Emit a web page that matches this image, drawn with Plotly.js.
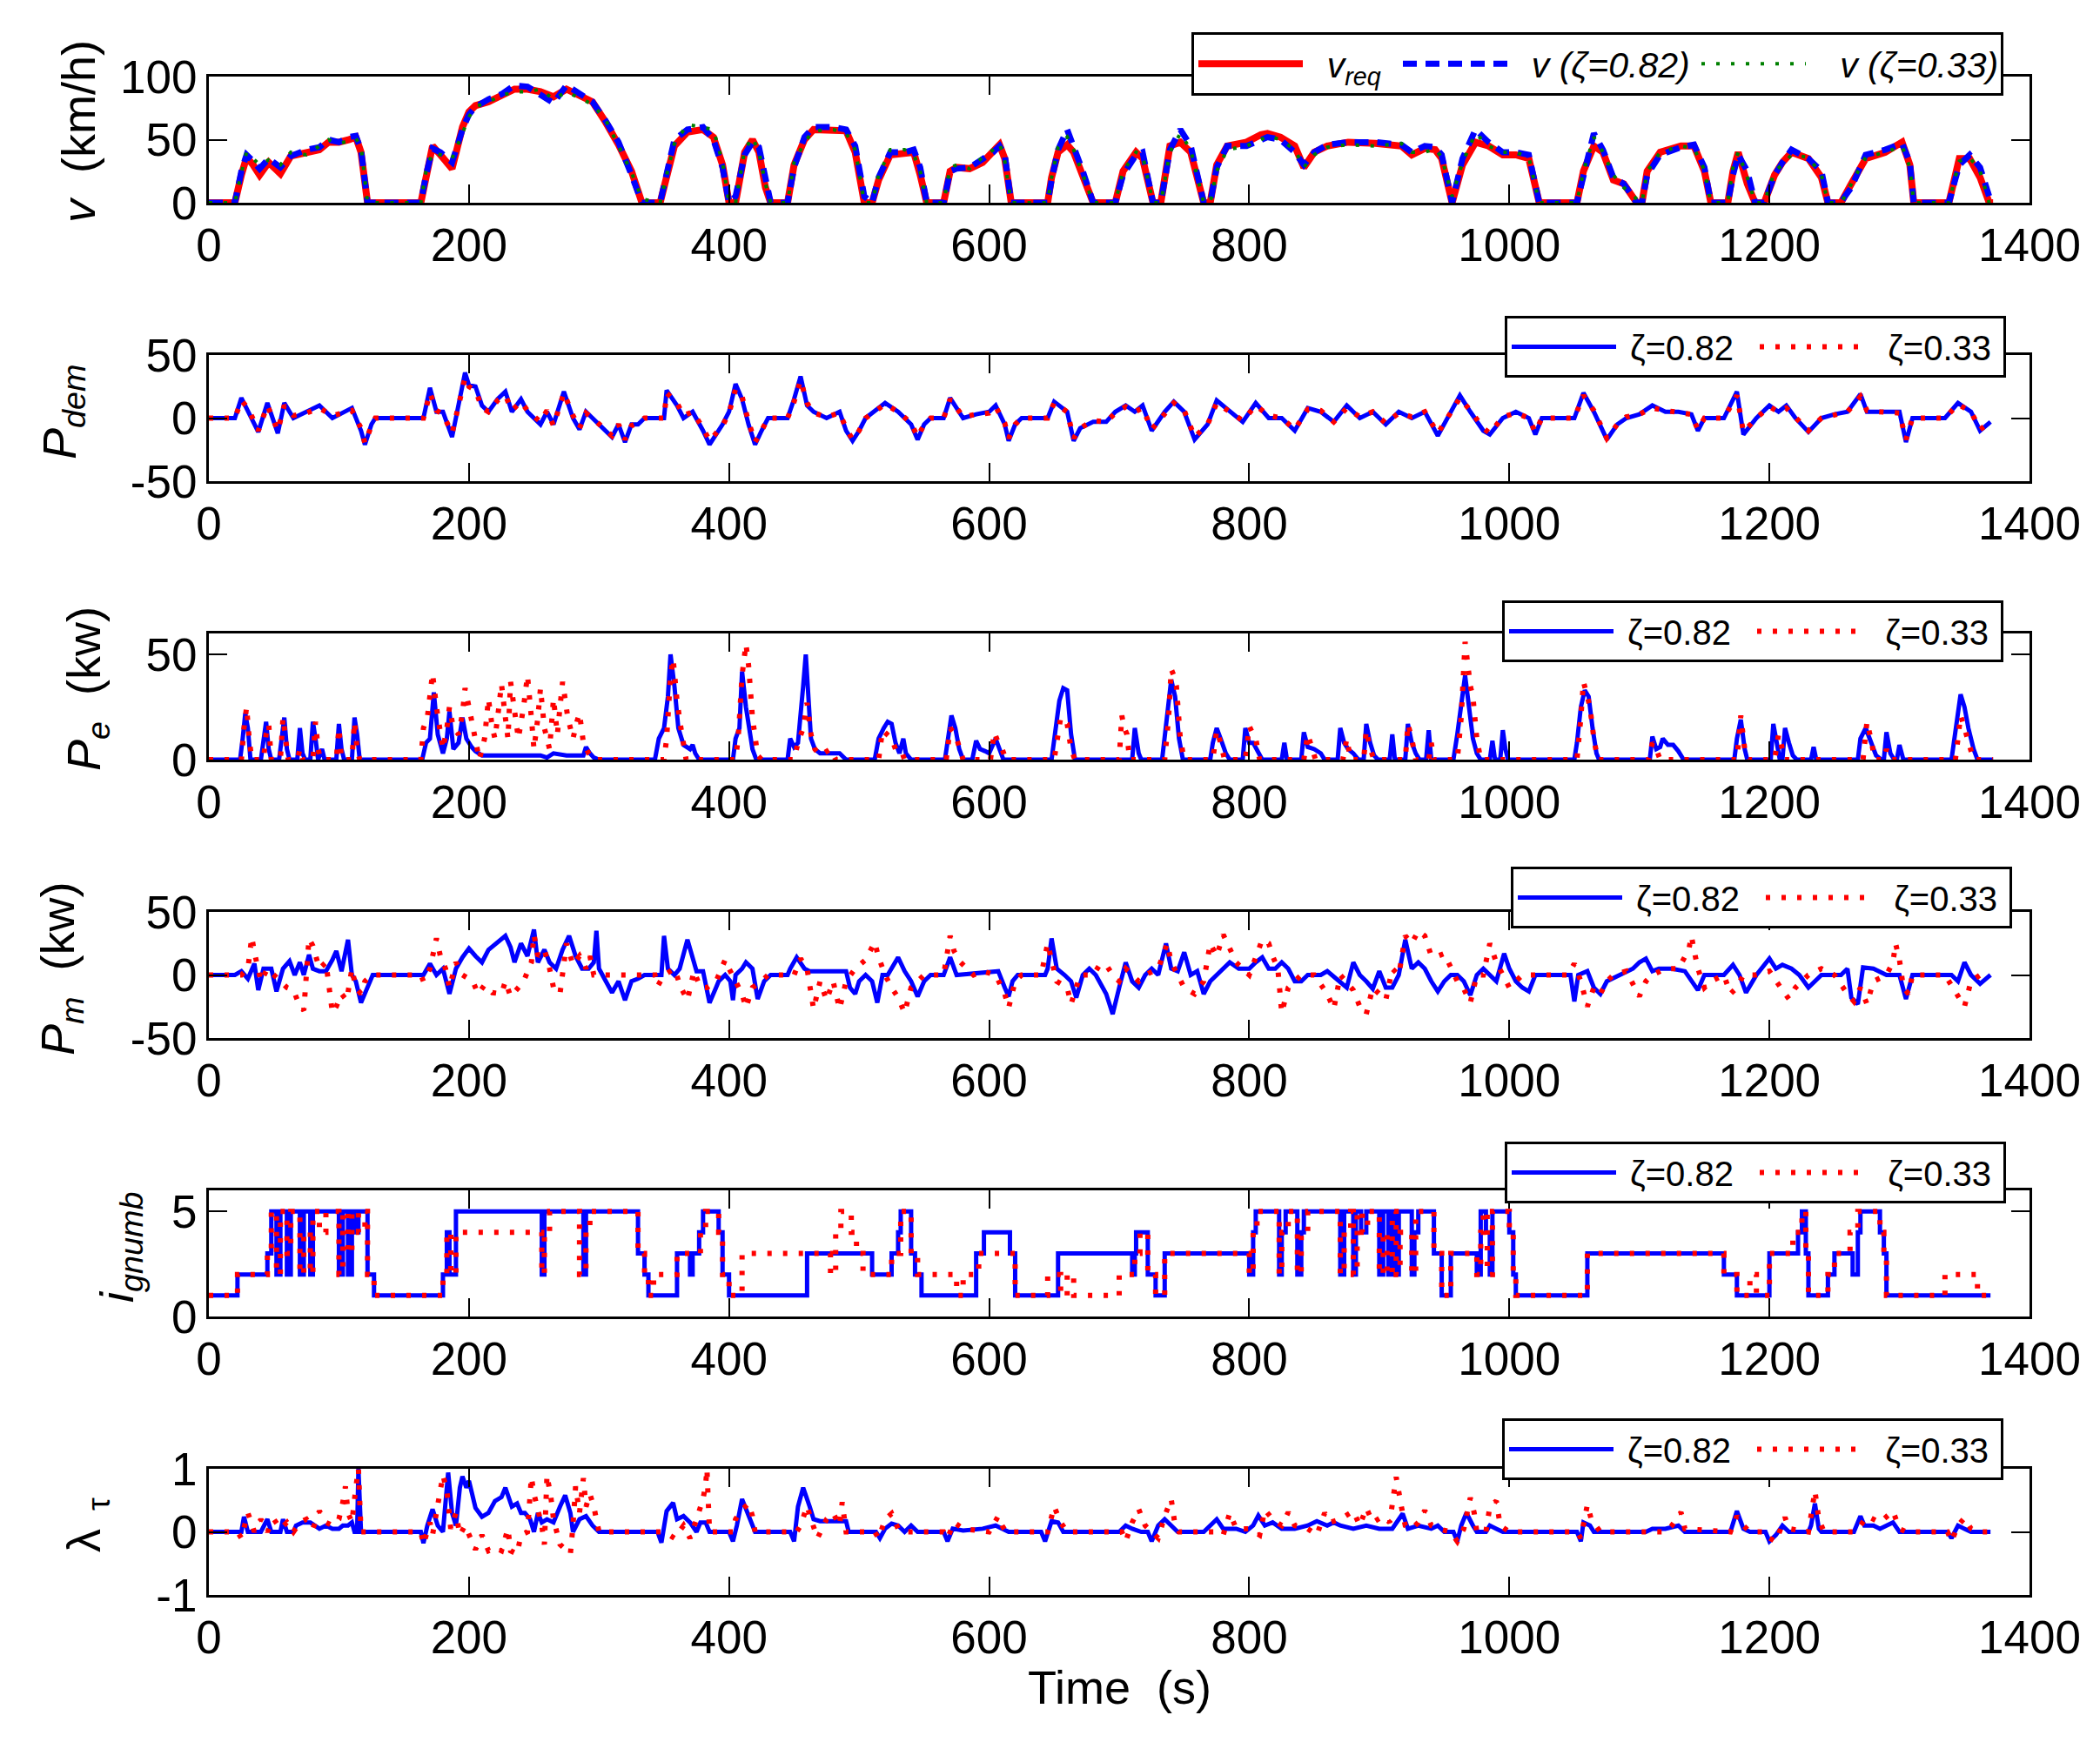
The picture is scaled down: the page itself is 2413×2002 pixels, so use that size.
<!DOCTYPE html>
<html>
<head>
<meta charset="utf-8">
<script src="https://cdn.plot.ly/plotly-3.0.1.min.js"></script>
<style>html,body{margin:0;padding:0;background:#fff}#chart{width:2413px;height:2002px}</style>
</head>
<body>
<div id="chart"></div>
<script>
// ---------------- DATA ----------------
// speed: [time s, v_req, v (zeta=0.82), v (zeta=0.33)] in km/h
const speedRows = [
[0,0,0,0],[20,0,0,0],[25,22,25,24],[29,36,38,40],[34,30,33,35],[39,22,27,30],[46,32,35,34],[55,23,28,30],[63,37,37,40],[75,40,42,38],
[85,42,44,45],[92,48,50,50],[100,48,48,47],[108,50,52,49],[113,52,53,51],[117,40,42,45],[122,0,0,0],[163,0,0,0],[167,20,22,25],[172,45,43,40],
[178,38,40,38],[187,27,32,35],[195,60,58,55],[200,72,70,68],[205,77,76,76],[215,80,82,80],[225,85,86,85],[235,90,93,88],[245,90,92,88],[255,88,85,90],
[265,84,79,82],[275,90,93,88],[285,85,86,83],[295,80,80,78],[305,64,65,66],[315,46,48,45],[325,25,22,24],[333,0,0,3],[347,0,0,0],[352,20,25,22],
[358,45,50,47],[368,56,58,62],[380,58,60,60],[388,52,50,58],[395,30,28,32],[400,0,0,0],[405,0,5,0],[412,40,38,42],[418,50,48,52],[423,40,44,40],
[428,12,20,15],[432,0,0,0],[445,0,0,0],[450,30,28,32],[458,50,52,48],[465,58,60,57],[480,57,60,58],[490,57,58,55],[497,40,45,42],[504,0,5,0],
[510,0,0,0],[515,18,20,22],[524,38,40,42],[535,40,40,42],[542,40,42,38],[547,22,28,25],[552,0,0,0],[565,0,0,0],[570,25,25,28],[575,28,27,30],
[585,27,28,27],[595,32,35,36],[603,40,40,42],[608,46,45,47],[612,35,38,33],[617,0,0,0],[645,0,0,0],[648,20,18,20],[653,40,42,44],[660,46,58,52],
[665,40,45,42],[672,20,25,22],[680,0,0,0],[697,0,0,0],[703,25,22,25],[713,40,38,40],[718,35,40,38],[726,0,0,0],[732,0,0,0],[739,45,42,40],
[747,48,58,55],[755,40,45,42],[765,0,0,0],[770,0,0,0],[775,30,28,25],[783,45,45,42],[798,48,45,45],[809,54,50,50],[814,55,52,53],[824,52,50,50],
[835,45,40,42],[842,28,30,28],[850,40,40,38],[860,45,46,44],[876,48,48,46],[897,47,48,45],[917,45,46,47],[925,38,40,40],[935,43,45,40],[943,42,44,43],
[948,35,38,36],[956,0,0,5],[964,30,35,32],[974,48,58,55],[984,45,48,45],[995,38,40,40],[1005,38,40,40],[1015,35,38,36],[1023,0,0,0],[1052,0,0,0],
[1057,25,22,25],[1065,45,55,52],[1072,40,42,40],[1080,18,20,22],[1088,15,15,12],[1098,0,0,3],[1102,0,0,0],[1106,25,22,25],[1116,40,38,40],[1132,45,44,45],
[1142,45,46,43],[1150,25,28,26],[1155,0,0,0],[1168,0,0,0],[1172,25,22,28],[1176,40,38,40],[1183,15,25,20],[1189,0,0,0],[1196,0,0,0],[1204,22,22,25],
[1210,32,32,30],[1217,40,42,38],[1230,35,35,36],[1240,20,25,22],[1245,0,0,0],[1255,0,0,0],[1258,5,5,5],[1263,15,12,15],[1274,35,38,36],[1289,40,42,40],
[1302,48,47,45],[1308,30,32,28],[1311,0,0,0],[1338,0,0,0],[1346,35,30,33],[1354,35,38,36],[1362,20,28,25],[1369,0,5,0],[1372,0,0,0]
];

// P_dem: [time, zeta=0.82, zeta=0.33]
const pdemRows = [
[0,0,0],[20,0,0],[25,16,14],[30,5,8],[35,-5,-3],[38,-11,-10],[45,12,10],[50,-4,-2],[53,-12,-10],[58,12,10],
[65,0,2],[75,5,4],[85,10,8],[95,0,2],[105,5,4],[110,8,6],[117,-10,-8],[120,-21,-20],[125,-5,-6],[128,0,0],
[165,0,0],[170,24,20],[175,5,6],[180,5,3],[187,-15,-12],[192,10,8],[197,36,32],[200,26,25],[205,25,22],[210,10,8],
[215,5,5],[222,15,14],[228,21,18],[233,5,6],[240,15,13],[245,5,6],[255,-5,-3],[260,5,6],[265,-5,-6],[273,21,20],
[280,0,2],[285,-9,-8],[290,5,4],[295,0,0],[305,-10,-9],[310,-15,-14],[315,-5,-5],[320,-19,-17],[325,-5,-6],[330,-5,-4],
[335,0,0],[350,0,0],[352,22,20],[360,10,12],[365,0,2],[372,5,5],[380,-10,-8],[385,-21,-18],[395,-5,-6],[400,5,4],
[405,27,23],[410,15,17],[415,-5,-3],[420,-21,-19],[425,-10,-10],[430,0,0],[445,0,0],[450,15,13],[455,33,30],[460,10,12],
[465,5,4],[475,0,1],[485,5,4],[490,-10,-8],[495,-18,-17],[500,-10,-10],[505,0,0],[520,12,11],[530,5,5],[540,-5,-4],
[545,-17,-15],[550,-5,-5],[555,0,0],[565,0,0],[570,16,15],[580,0,1],[590,3,3],[600,5,4],[605,10,9],[612,-5,-4],
[615,-18,-16],[620,-5,-5],[625,0,0],[645,0,0],[650,13,12],[660,5,5],[665,-18,-16],[670,-8,-8],[680,-3,-2],[690,-3,-3],
[697,5,4],[705,10,9],[712,5,5],[718,10,8],[725,-10,-9],[735,5,4],[742,13,12],[750,5,6],[758,-17,-15],[768,-5,-5],
[775,14,12],[785,5,5],[795,-3,-2],[805,12,10],[815,0,2],[825,0,0],[835,-10,-9],[845,8,7],[855,5,6],[865,-3,-3],
[875,10,8],[885,0,1],[895,5,5],[905,-5,-4],[915,5,4],[925,0,1],[935,5,5],[945,-14,-12],[955,5,4],[962,18,16],
[970,5,6],[980,-10,-8],[985,-13,-12],[995,0,1],[1005,5,4],[1015,0,0],[1020,-13,-11],[1025,0,0],[1050,0,0],[1057,20,18],
[1065,5,6],[1075,-17,-16],[1083,-5,-5],[1090,0,1],[1100,3,3],[1110,10,8],[1120,5,6],[1130,5,4],[1140,3,3],[1145,-10,-9],
[1150,0,0],[1165,0,0],[1175,21,18],[1180,-13,-11],[1190,0,0],[1200,10,9],[1207,5,5],[1213,10,8],[1220,0,1],[1230,-11,-10],
[1240,0,0],[1250,3,3],[1260,5,5],[1270,19,17],[1275,5,6],[1285,5,5],[1300,5,4],[1305,-19,-17],[1310,0,0],[1335,0,0],
[1345,12,11],[1355,5,5],[1362,-10,-9],[1370,-3,-3]
];

// P_e (kW), zeta=0.82: [time, value]
const pe082 = [
[0,0],[24,0],[26,10],[28,22],[30,15],[32,0],[40,0],[42,10],[44,18],[46,5],[48,0],[54,0],[56,12],[58,20],[60,5],[62,0],
[68,0],[70,15],[72,3],[74,0],[78,0],[80,18],[82,10],[84,0],[87,5],[89,0],[98,0],[100,17],[102,5],[104,0],[110,0],[112,20],
[114,12],[116,0],[164,0],[167,8],[170,10],[173,32],[176,12],[180,3],[183,10],[185,23],[188,5],[192,8],[195,20],[198,10],
[202,6],[205,4],[210,2],[250,2],[255,2],[260,1],[265,3],[275,2],[288,2],[290,6],[293,3],[296,1],[300,0],[343,0],[346,10],
[350,15],[353,30],[355,50],[358,35],[361,15],[365,7],[370,5],[372,7],[374,3],[377,0],[403,0],[405,10],[408,15],[410,42],
[413,25],[416,12],[418,5],[421,0],[445,0],[447,10],[450,6],[453,8],[455,20],[457,35],[459,50],[461,25],[463,10],[466,5],
[470,3],[485,3],[490,0],[512,0],[515,10],[519,15],[522,18],[525,17],[528,8],[531,3],[534,10],[536,3],[540,0],[566,0],
[568,10],[571,21],[574,15],[577,5],[580,0],[587,0],[590,9],[593,5],[597,4],[600,3],[605,10],[608,5],[611,0],[648,0],
[651,15],[654,28],[657,34],[660,33],[663,12],[666,0],[710,0],[712,15],[715,3],[717,0],[733,0],[736,15],[738,28],[740,38],
[743,30],[746,10],[749,0],[770,0],[772,8],[775,15],[778,10],[782,3],[785,0],[795,0],[797,15],[800,8],[803,8],[807,3],
[810,0],[825,0],[827,8],[829,0],[840,0],[842,13],[845,6],[850,5],[855,3],[858,0],[868,0],[870,15],[873,8],[876,5],
[880,3],[884,0],[888,0],[890,17],[893,8],[896,2],[899,0],[908,0],[910,12],[912,0],[920,0],[922,17],[925,8],[928,3],
[931,0],[936,0],[938,14],[940,0],[957,0],[960,12],[963,25],[966,40],[969,25],[972,10],[975,3],[978,0],[985,0],[987,9],
[989,0],[993,0],[995,14],[997,5],[999,0],[1050,0],[1052,8],[1055,25],[1058,33],[1061,30],[1064,15],[1067,3],[1069,0],
[1108,0],[1110,11],[1113,5],[1116,6],[1118,10],[1122,7],[1126,7],[1130,4],[1134,0],[1173,0],[1175,10],[1178,19],[1181,5],
[1183,0],[1201,0],[1203,17],[1206,5],[1208,0],[1210,0],[1212,15],[1215,8],[1218,2],[1221,0],[1232,0],[1234,6],[1236,0],
[1268,0],[1270,10],[1274,15],[1278,8],[1282,2],[1286,0],[1288,0],[1290,13],[1293,3],[1296,0],[1298,0],[1300,7],[1303,0],
[1340,0],[1343,15],[1347,31],[1350,25],[1353,15],[1357,5],[1360,0],[1372,0]
];
// P_e (kW), zeta=0.33
const pe033 = [
[0,0],[25,0],[27,15],[29,25],[31,10],[33,0],[42,0],[44,12],[46,17],[48,0],[55,0],[57,20],[59,10],[61,0],[68,0],[70,5],
[72,0],[80,0],[82,18],[84,5],[86,0],[98,0],[100,15],[102,0],[110,0],[112,18],[114,5],[116,0],[163,0],[165,15],[168,20],
[172,41],[175,25],[178,12],[180,5],[183,15],[185,25],[188,15],[192,12],[195,22],[197,34],[200,25],[203,15],[205,10],
[208,0],[212,10],[215,29],[218,15],[220,10],[223,25],[225,36],[228,20],[230,10],[232,37],[235,25],[238,10],[242,25],
[245,40],[248,20],[250,5],[253,20],[255,34],[258,15],[262,5],[265,29],[268,12],[270,25],[272,37],[276,20],[280,10],
[283,18],[285,22],[288,8],[292,3],[296,0],[350,0],[352,10],[355,40],[357,48],[360,28],[363,15],[367,0],[405,0],[407,10],
[410,40],[413,55],[415,45],[418,20],[422,2],[425,0],[450,0],[453,8],[457,15],[460,27],[463,12],[466,5],[470,2],[478,5],
[482,0],[515,0],[518,14],[522,12],[525,10],[528,5],[532,5],[535,0],[567,0],[570,15],[574,12],[577,6],[580,0],[601,0],
[604,13],[607,8],[610,5],[613,0],[650,0],[653,12],[655,20],[658,18],[660,17],[663,5],[666,0],[700,0],[702,21],[704,15],
[706,12],[708,0],[735,0],[738,20],[740,43],[742,40],[744,35],[747,10],[750,0],[772,0],[775,14],[778,8],[781,0],[797,0],
[800,16],[803,12],[805,10],[808,0],[842,0],[845,12],[848,5],[851,0],[872,0],[875,10],[878,0],[888,0],[890,14],[893,5],
[896,0],[920,0],[922,17],[925,10],[928,0],[938,0],[940,8],[942,0],[960,0],[963,20],[966,56],[968,45],[970,35],[972,30],
[975,10],[978,0],[1052,0],[1055,20],[1057,37],[1060,30],[1062,25],[1065,10],[1068,0],[1107,0],[1110,8],[1113,5],[1116,0],
[1175,0],[1178,21],[1181,5],[1184,0],[1204,0],[1207,12],[1210,5],[1212,0],[1272,0],[1275,18],[1278,10],[1281,0],[1288,0],
[1290,5],[1293,0],[1343,0],[1345,10],[1347,21],[1350,15],[1354,5],[1357,0],[1372,0]
];

// P_m (kW), zeta=0.82
const pm082 = [
[0,0],[20,0],[25,3],[30,-3],[35,9],[38,-12],[42,5],[48,5],[52,-13],[57,5],[62,11],[66,0],[70,10],[73,0],[77,16],[80,5],
[85,3],[90,3],[95,12],[98,19],[102,3],[107,28],[110,0],[113,-5],[117,-22],[122,-10],[126,0],[165,0],[170,9],[175,0],
[180,5],[185,-15],[190,5],[195,14],[200,21],[205,15],[210,10],[215,20],[222,26],[228,31],[232,22],[235,10],[240,25],
[245,15],[250,36],[253,10],[258,20],[262,10],[267,5],[272,20],[277,31],[282,15],[287,5],[292,5],[296,10],[298,35],
[300,5],[305,-5],[310,-14],[315,-5],[320,-20],[325,-5],[330,-3],[335,0],[348,0],[350,31],[353,5],[358,0],[362,5],
[368,28],[372,15],[375,3],[380,3],[385,-22],[390,-10],[392,-5],[397,0],[401,-5],[403,-20],[405,0],[410,5],[413,10],
[418,5],[422,-19],[427,-5],[432,0],[445,0],[447,5],[452,14],[458,5],[462,3],[490,3],[493,-10],[497,-15],[500,-5],
[505,0],[510,-5],[514,-22],[518,0],[522,0],[530,14],[535,3],[540,-5],[545,-17],[550,-5],[555,0],[565,0],[570,14],
[575,0],[600,2],[607,3],[612,-10],[615,-17],[618,-5],[622,0],[643,0],[645,5],[648,29],[652,5],[658,0],[663,-5],
[667,-18],[672,0],[677,5],[682,0],[690,-15],[695,-31],[700,-10],[705,10],[710,-5],[715,-10],[720,0],[725,5],[730,0],
[736,25],[740,5],[745,3],[750,18],[755,0],[760,3],[765,-15],[770,-5],[780,5],[785,10],[792,5],[800,5],[805,10],
[810,14],[815,5],[820,5],[825,10],[830,5],[835,-5],[840,-5],[845,0],[855,0],[860,3],[870,-5],[875,-10],[880,10],
[885,0],[890,-5],[895,-11],[900,3],[905,-10],[910,-10],[915,0],[920,28],[925,5],[930,10],[935,5],[940,-5],[945,-13],
[950,-5],[955,0],[960,0],[965,-5],[970,-16],[975,0],[980,5],[985,0],[990,-5],[996,17],[1000,5],[1005,-5],[1010,-10],
[1015,-13],[1020,0],[1047,0],[1050,-21],[1053,0],[1060,3],[1065,-10],[1070,-15],[1075,-5],[1085,0],[1095,5],[1100,10],
[1105,13],[1110,3],[1115,5],[1125,5],[1135,3],[1145,-12],[1150,0],[1165,0],[1172,8],[1177,0],[1182,-14],[1190,0],
[1200,13],[1205,5],[1210,8],[1217,5],[1223,0],[1230,-10],[1240,0],[1255,0],[1260,5],[1263,-18],[1268,-23],[1272,6],
[1280,5],[1290,0],[1300,0],[1305,-19],[1310,0],[1340,0],[1345,-5],[1350,10],[1355,0],[1362,-7],[1370,0]
];
// P_m (kW), zeta=0.33
const pm033 = [
[0,0],[25,0],[30,5],[33,30],[35,18],[40,-5],[45,5],[55,-5],[60,-10],[65,-12],[70,-25],[73,-28],[75,0],[77,29],[80,23],
[85,5],[90,10],[95,-30],[98,-25],[102,-15],[106,-20],[110,5],[113,-10],[117,-15],[120,-5],[125,0],[163,0],[165,-5],
[170,5],[175,29],[178,15],[182,5],[185,-10],[190,10],[195,0],[203,-5],[207,-15],[212,-8],[218,-14],[225,-15],[228,-5],
[232,-17],[238,-10],[242,-5],[248,10],[250,32],[253,15],[258,20],[262,5],[265,-10],[270,-15],[275,25],[280,8],[285,15],
[290,5],[293,15],[296,0],[343,0],[345,-9],[350,0],[358,5],[363,-10],[368,-20],[373,3],[378,-10],[383,-10],[390,-5],
[397,12],[400,5],[405,-5],[410,-15],[413,-26],[418,-10],[425,-5],[430,0],[450,0],[455,13],[460,5],[463,-15],[465,-27],
[470,-5],[475,-20],[480,-5],[485,-27],[490,-5],[497,5],[505,12],[512,26],[515,14],[520,0],[525,-10],[530,-18],[535,-30],
[540,-10],[545,-5],[550,0],[565,0],[570,31],[573,19],[578,10],[583,5],[588,0],[595,3],[605,0],[612,-15],[615,-26],
[620,-5],[625,0],[640,0],[645,25],[648,12],[652,-5],[660,-10],[663,-23],[670,0],[680,0],[685,8],[690,8],[695,0],
[700,-5],[705,5],[715,-5],[720,0],[730,5],[737,25],[740,10],[745,0],[750,-10],[758,-15],[765,-5],[770,25],[775,15],
[780,32],[785,20],[790,10],[795,5],[800,0],[810,28],[815,25],[818,15],[822,5],[825,-30],[830,-10],[840,0],[850,0],
[860,-15],[865,-27],[870,0],[880,-12],[885,-25],[890,-31],[895,-10],[900,-15],[905,-20],[910,5],[915,0],[920,31],
[925,25],[930,35],[935,31],[940,15],[945,15],[950,17],[955,5],[960,-5],[965,-11],[970,-22],[975,0],[980,0],[985,25],
[990,10],[995,0],[1000,-10],[1005,-5],[1010,0],[1045,0],[1050,9],[1055,-5],[1060,-25],[1065,-10],[1070,-15],[1075,-5],
[1080,0],[1090,3],[1100,-17],[1105,-5],[1110,0],[1120,5],[1130,5],[1138,20],[1140,31],[1142,20],[1145,5],[1150,-10],
[1155,-5],[1165,0],[1170,-15],[1175,-10],[1180,0],[1190,0],[1200,3],[1210,-12],[1215,-19],[1220,-10],[1230,0],[1240,5],
[1250,0],[1260,-15],[1265,-21],[1270,-10],[1275,-23],[1280,-5],[1290,0],[1295,10],[1297,25],[1300,12],[1303,-10],
[1307,-15],[1310,0],[1335,0],[1345,-17],[1350,-25],[1355,-5],[1362,0],[1370,0]
];

// gear number i_gnumb (held until next time), zeta=0.82
const gear082 = [
[0,1],[22,2],[45,3],[48,5],[52,2],[55,5],[60,2],[63,5],[70,2],[73,5],[78,2],[80,5],[100,2],[103,5],[107,2],[110,5],
[113,4],[115,5],[122,2],[127,1],[180,2],[183,4],[185,2],[190,5],[256,2],[258,5],[288,2],[290,5],[330,3],[335,2],[338,1],
[360,3],[370,2],[372,3],[377,4],[380,5],[392,4],[395,2],[400,1],[460,3],[510,2],[525,3],[530,4],[532,5],[540,3],[543,2],
[548,1],[590,3],[596,4],[616,3],[620,1],[653,3],[710,2],[712,3],[713,4],[722,2],[728,1],[735,3],[800,2],[803,4],[805,5],
[823,2],[825,4],[828,5],[837,2],[840,4],[842,5],[870,2],[873,5],[880,2],[882,5],[886,4],[890,5],[900,2],[903,5],[907,2],
[910,5],[913,2],[915,5],[925,2],[927,4],[930,5],[942,3],[948,1],[955,3],[975,2],[978,5],[982,4],[985,2],[987,5],[1000,4],
[1003,2],[1005,1],[1060,3],[1165,2],[1175,1],[1200,3],[1222,4],[1225,5],[1228,3],[1230,1],[1245,2],[1250,3],[1264,2],
[1268,4],[1270,5],[1285,4],[1288,3],[1290,1],[1370,1]
];
// gear number, zeta=0.33
const gear033 = [
[0,1],[22,2],[45,3],[48,5],[52,2],[55,5],[60,3],[63,5],[70,2],[73,4],[78,2],[80,5],[85,4],[90,5],[100,2],[103,5],[107,3],
[110,5],[115,4],[120,5],[122,2],[127,1],[180,2],[183,4],[186,2],[190,4],[256,2],[258,4],[262,5],[285,2],[290,4],[293,5],
[330,3],[335,2],[338,1],[342,2],[360,3],[378,4],[382,5],[392,4],[395,2],[400,1],[410,3],[478,2],[482,4],[486,5],[494,4],
[498,3],[503,2],[525,3],[532,5],[540,3],[545,2],[575,1],[580,2],[592,3],[620,1],[645,2],[655,1],[660,2],[665,1],[700,2],
[712,3],[716,4],[722,2],[728,1],[735,3],[800,2],[803,4],[806,5],[823,2],[825,4],[830,5],[837,2],[840,4],[845,5],[870,2],
[873,4],[878,5],[880,2],[883,5],[887,4],[891,5],[900,2],[903,4],[906,2],[910,5],[913,2],[916,4],[925,2],[928,5],[942,3],
[948,1],[955,3],[975,2],[978,4],[980,5],[983,2],[987,5],[1000,4],[1003,2],[1005,1],[1060,3],[1165,2],[1175,1],[1185,2],
[1190,1],[1200,3],[1218,4],[1225,5],[1228,3],[1230,1],[1245,2],[1250,3],[1262,4],[1268,5],[1285,4],[1288,3],[1290,1],
[1335,2],[1360,1],[1370,1]
];

// lambda_tau, zeta=0.82
const lam082 = [
[0,0],[25,0],[27,0.24],[30,0],[40,0],[45,0.2],[48,0],[55,0],[57,0.2],[60,0],[65,0],[67,0.1],[72,0.15],[78,0.15],[85,0.05],
[90,0.1],[95,0.05],[100,0.05],[103,0.1],[107,0.1],[110,0.15],[112,0],[114,0],[115,1.0],[117,0],[163,0],[165,-0.18],
[168,0.1],[172,0.36],[176,0.1],[180,0],[184,0.94],[187,0.3],[190,0.1],[193,0.7],[195,0.88],[198,0.7],[200,0.81],[205,0.38],
[210,0.24],[215,0.3],[220,0.49],[225,0.55],[228,0.7],[233,0.4],[237,0.45],[240,0.3],[243,0.3],[247,0.2],[250,0],[253,0.3],
[256,0.15],[260,0.2],[265,0.15],[270,0.4],[274,0.58],[278,0.3],[280,0],[285,0.2],[290,0.25],[295,0.1],[300,0],[345,0],
[348,-0.17],[352,0.33],[357,0.46],[360,0.2],[365,0.25],[370,0.15],[375,0],[378,0.15],[382,0.15],[385,0],[400,0],[403,-0.15],
[406,0.1],[410,0.52],[414,0.3],[418,0.1],[420,0],[447,0],[450,-0.15],[453,0.4],[457,0.7],[462,0.4],[465,0.2],[470,0.17],
[490,0.17],[492,0],[513,0],[516,-0.1],[520,0.05],[525,0.13],[530,0.1],[535,0],[540,0.1],[545,0],[565,0],[568,-0.15],
[572,0.05],[580,0.02],[595,0.05],[605,0.1],[610,0.05],[615,0],[640,0],[643,-0.15],[648,0.17],[653,0.15],[657,0],[700,0],
[705,0.1],[710,0.05],[717,0],[722,0],[725,-0.15],[730,0.1],[735,0.2],[740,0.1],[745,0],[765,0],[770,0.1],[775,0.2],
[780,0.05],[790,0.05],[797,0],[803,0.1],[807,0.26],[812,0.1],[818,0.15],[825,0.05],[835,0.05],[845,0.1],[852,0.17],
[860,0.1],[865,0.15],[870,0.1],[880,0.05],[890,0.1],[900,0.05],[910,0.05],[918,0.29],[922,0.05],[930,0.1],[940,0.05],
[945,0.1],[950,0],[957,0],[960,-0.15],[963,0.1],[967,0.3],[972,0.1],[975,0],[982,0],[985,0.1],[990,0.05],[995,0],
[1052,0],[1055,-0.15],[1057,0.15],[1062,0.1],[1065,0],[1105,0],[1110,0.05],[1120,0.05],[1130,0.1],[1135,0],[1170,0],
[1175,0.33],[1180,0.05],[1185,0],[1197,0],[1200,-0.15],[1205,-0.05],[1210,0.1],[1215,0],[1230,0],[1232,0.1],[1235,0.45],
[1238,0.05],[1240,0],[1265,0],[1270,0.25],[1273,0.1],[1280,0.1],[1285,0.05],[1290,0.1],[1295,0.15],[1300,0],[1337,0],
[1340,-0.1],[1345,0.1],[1350,0.05],[1355,0],[1370,0]
];
// lambda_tau, zeta=0.33
const lam033 = [
[0,0],[22,0],[25,-0.1],[30,0.3],[35,0],[40,0.2],[45,0],[50,0.2],[55,0.05],[60,0.15],[65,0],[70,0.15],[75,0.2],[80,0.05],
[85,0.33],[90,0.15],[95,0.1],[100,0.2],[103,0.47],[105,0.72],[107,0.3],[110,0.15],[113,0.7],[115,1.0],[117,0],[163,0],
[165,-0.2],[170,0.15],[172,-0.05],[180,0.9],[183,0.65],[186,0.05],[190,0.3],[193,-0.05],[197,0.1],[200,-0.05],[205,-0.28],
[210,-0.05],[215,-0.3],[220,-0.25],[225,-0.3],[230,0.05],[232,-0.3],[237,-0.35],[240,-0.05],[245,0],[248,0.87],[250,0.6],
[253,0.35],[256,0.1],[258,-0.2],[260,0.9],[263,0.55],[265,0.2],[270,-0.2],[275,-0.3],[278,-0.35],[280,0.1],[282,0.72],
[285,0.3],[288,0.85],[290,0.4],[293,0.6],[296,0.4],[300,0],[350,0],[358,-0.1],[365,0.1],[370,-0.1],[375,0.2],[380,0.52],
[382,0.75],[383,1.0],[385,0],[403,0],[405,0.2],[410,0.35],[415,0.45],[418,0.25],[420,0],[452,0],[455,0.1],[460,0.41],
[463,0.2],[465,0.05],[468,-0.1],[475,0.2],[480,0.3],[485,0.1],[487,0.47],[490,0],[512,0],[515,-0.1],[520,0.2],[525,0.29],
[530,0.05],[535,0],[565,0],[568,-0.1],[573,0.15],[580,0.05],[600,0],[603,0.1],[607,0.25],[610,0.1],[613,0],[645,0],
[650,0.4],[655,0.15],[660,0],[702,0],[705,-0.15],[710,0.15],[715,0.36],[720,0.1],[725,0],[730,-0.1],[735,0.25],[740,0.52],
[743,0.1],[746,0],[775,0],[780,-0.05],[785,0.3],[790,0.05],[800,0.05],[808,-0.05],[812,0.35],[818,0.2],[825,0.1],
[830,0.31],[835,0.1],[845,0.05],[852,-0.05],[858,0.3],[862,0.15],[870,0.2],[880,0.33],[885,0.1],[890,0.38],[895,0.15],
[903,0.25],[908,0.15],[913,0.87],[915,0.6],[917,0.4],[920,0.1],[925,0.05],[930,0.15],[935,0.34],[940,0.1],[945,0.05],
[955,0],[960,-0.15],[965,0.05],[970,0.54],[973,0.3],[975,0],[982,0],[985,0.4],[990,0.49],[993,0.1],[1000,0],[1052,0],
[1055,-0.1],[1060,0.43],[1063,0.2],[1070,0],[1120,0],[1125,0.1],[1132,0.31],[1135,0.05],[1170,0],[1175,0.25],[1180,0.1],
[1185,0],[1197,0],[1200,-0.1],[1205,-0.15],[1212,0.23],[1215,0.05],[1230,0],[1235,0.65],[1238,0.2],[1242,0],[1265,0],
[1270,0.1],[1275,0.25],[1285,0.15],[1295,0.33],[1300,0.05],[1305,0],[1337,0],[1340,-0.15],[1345,0.1],[1350,0.22],
[1355,0.05],[1360,0],[1370,0]
];

// tick values / labels
const xTicks = [0,200,400,600,800,1000,1200,1400];
const yTickSets = [
  {vals:[0,50,100], text:['0','50','100'], range:[0,100]},
  {vals:[-50,0,50], text:['-50','0','50'], range:[-50,50]},
  {vals:[0,50], text:['0','50'], range:[0,60]},
  {vals:[-50,0,50], text:['-50','0','50'], range:[-50,50]},
  {vals:[0,5], text:['0','5'], range:[0,6]},
  {vals:[-1,0,1], text:['-1','0','1'], range:[-1,1]}
];
const yTitles = [
  '<i>v</i>\u00a0\u00a0(km/h)',
  '<i>P</i><sub><i>dem</i></sub>',
  '<i>P</i><sub><i>e</i></sub>\u00a0\u00a0(kw)',
  '<i>P</i><sub><i>m</i></sub>\u00a0\u00a0(kw)',
  '<i>i</i><sub><i>gnumb</i></sub>',
  '\u03bb<sub>\u00a0\u00a0\u03c4</sub>'
];
const xTitle = 'Time\u00a0\u00a0(s)';
const topLegendNames = ['<i>v</i><sub><i>req</i></sub>', '<i>v (\u03b6=0.82)</i>', '<i>v (\u03b6=0.33)</i>'];
const lowLegendNames = ['\u03b6=0.82', '\u03b6=0.33'];

// ---------------- LAYOUT ----------------
const FONT = 'Liberation Sans, Arial, Helvetica, sans-serif';
const W = 2413, H = 2002;
const L = 240, R = 2332, T = 88, B = 1834;
const PW = R - L, PH = B - T;
const fx = p => (p - L) / PW;
const fy = p => (B - p) / PH;
const PANEL_H = 145, PANEL_STEP = 320;
const SP = '\u00a0';

const BLUE = '#0000ff', RED = '#ff0000', GREEN = '#008000';
const col = (rows, c) => rows.map(r => r[c]);

const traces = [];
traces.push({x: col(speedRows,0), y: col(speedRows,1), type:'scatter', mode:'lines', xaxis:'x', yaxis:'y',
  name: SP + SP + topLegendNames[0], legend:'legend', legendwidth: 100, line:{color:RED, width:8}});
traces.push({x: col(speedRows,0), y: col(speedRows,2), type:'scatter', mode:'lines', xaxis:'x', yaxis:'y',
  name: SP + SP + topLegendNames[1], legend:'legend', legendwidth: 208, line:{color:BLUE, width:7, dash:'16px,10px'}});
traces.push({x: col(speedRows,0), y: col(speedRows,3), type:'scatter', mode:'lines', xaxis:'x', yaxis:'y',
  name: SP + SP + SP + topLegendNames[2], legend:'legend', legendwidth: 214, line:{color:GREEN, width:4, dash:'4px,13px'}});

const pairs = [
  [pdemRows.map(r=>[r[0],r[1]]), pdemRows.map(r=>[r[0],r[2]]), 'linear'],
  [pe082, pe033, 'linear'],
  [pm082, pm033, 'linear'],
  [gear082, gear033, 'hv'],
  [lam082, lam033, 'linear']
];
pairs.forEach((p, i) => {
  const k = i + 2;
  const ax = 'x' + k, ay = 'y' + k, lg = 'legend' + k;
  traces.push({x: col(p[0],0), y: col(p[0],1), type:'scatter', mode:'lines', xaxis:ax, yaxis:ay,
    name: SP + lowLegendNames[0], legend:lg, legendwidth: 150, line:{color:BLUE, width:5, shape:p[2]}});
  traces.push({x: col(p[1],0), y: col(p[1],1), type:'scatter', mode:'lines', xaxis:ax, yaxis:ay,
    name: SP + SP + lowLegendNames[1], legend:lg, legendwidth: 150, line:{color:RED, width:6, dash:'5px,13px', shape:p[2]}});
});

const layout = {
  width: W, height: H,
  margin: {l: L, r: W - R, t: T, b: H - B, pad: 0},
  paper_bgcolor: '#fff', plot_bgcolor: '#fff',
  font: {family: FONT, size: 53, color: '#000'},
  showlegend: true,
  annotations: []
};

const legendBoxes = [
  [2302, 37], [2305, 363], [2302, 690], [2312, 996], [2305, 1312], [2302, 1630]
];

for (let k = 0; k < 6; k++) {
  const top = T + PANEL_STEP * k, bot = top + PANEL_H;
  const sfx = k === 0 ? '' : String(k + 1);
  layout['xaxis' + sfx] = {
    domain: [0, 1], anchor: 'y' + sfx, range: [0, 1400],
    tickmode: 'array', tickvals: xTicks, ticktext: xTicks.map(String),
    ticks: 'inside', ticklen: 21, tickwidth: 2, tickcolor: '#000',
    showline: true, linewidth: 3, linecolor: '#000', mirror: 'ticks',
    showgrid: false, zeroline: false,
    tickfont: {family: FONT, size: 53, color: '#000'}
  };
  const ys = yTickSets[k];
  layout['yaxis' + sfx] = {
    domain: [fy(bot), fy(top)], anchor: 'x' + sfx, range: ys.range,
    tickmode: 'array', tickvals: ys.vals, ticktext: ys.text,
    ticks: 'inside', ticklen: 21, tickwidth: 2, tickcolor: '#000',
    showline: true, linewidth: 3, linecolor: '#000', mirror: 'ticks',
    showgrid: false, zeroline: false,
    tickfont: {family: FONT, size: 53, color: '#000'}
  };
  const lb = legendBoxes[k];
  layout['legend' + sfx] = {
    x: fx(lb[0]), y: fy(lb[1]), xanchor: 'right', yanchor: 'top',
    orientation: 'h', bgcolor: '#fff', bordercolor: '#000', borderwidth: 3,
    font: {family: FONT, size: k === 0 ? 41 : 40, color: '#000'},
    itemwidth: 120, tracegroupgap: 0, traceorder: 'normal'
  };
}

// y-axis titles (positioned like the reference)
const yTitlePos = [[90,151],[72,473],[100,792],[70,1113],[138,1433],[100,1753]];
yTitles.forEach((t, k) => {
  layout.annotations.push({
    text: t, xref: 'paper', yref: 'paper', x: fx(yTitlePos[k][0]), y: fy(yTitlePos[k][1]),
    xanchor: 'center', yanchor: 'middle', textangle: -90, showarrow: false,
    font: {family: FONT, size: 54, color: '#000'}
  });
});
layout.annotations.push({
  text: xTitle, xref: 'paper', yref: 'paper', x: fx(1286), y: fy(1939),
  xanchor: 'center', yanchor: 'middle', showarrow: false,
  font: {family: FONT, size: 54, color: '#000'}
});

Plotly.newPlot('chart', traces, layout, {staticPlot: true, displayModeBar: false});
</script>
</body>
</html>
